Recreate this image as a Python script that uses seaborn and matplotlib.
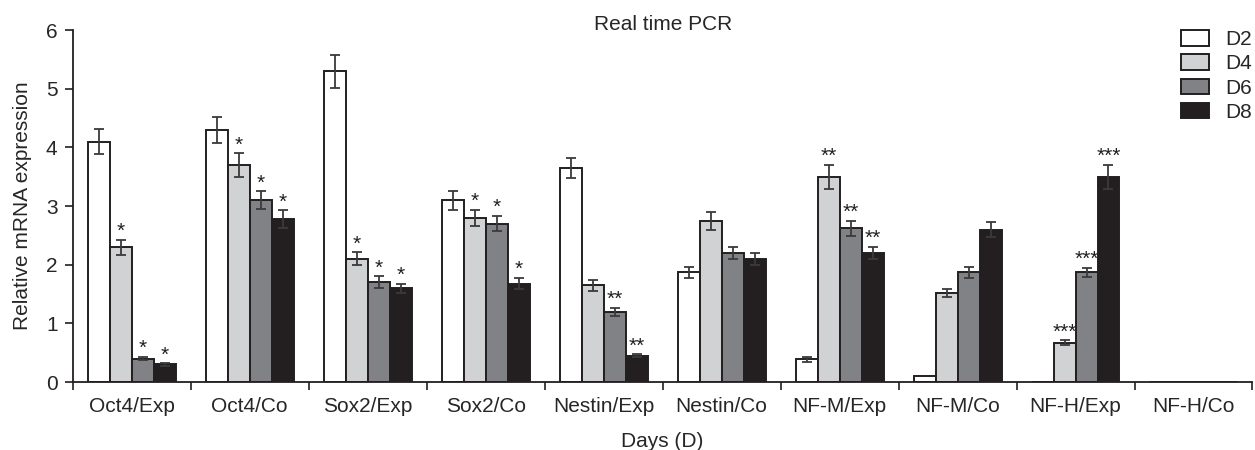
import matplotlib
matplotlib.use("Agg")
import matplotlib.pyplot as plt
import seaborn as sns
import pandas as pd
import numpy as np

genes = ["Oct4/Exp", "Oct4/Co", "Sox2/Exp", "Sox2/Co", "Nestin/Exp",
         "Nestin/Co", "NF-M/Exp", "NF-M/Co", "NF-H/Exp", "NF-H/Co"]
days = ["D2", "D4", "D6", "D8"]

d2 = [4.1, 4.3, 5.3, 3.1, 3.65, 1.87, 0.39, 0.1, 0.0, 0.0]
d4 = [2.3, 3.7, 2.1, 2.8, 1.65, 2.75, 3.5, 1.52, 0.67, 0.0]
d6 = [0.4, 3.1, 1.7, 2.7, 1.2, 2.2, 2.62, 1.87, 1.87, 0.0]
d8 = [0.3, 2.78, 1.6, 1.68, 0.45, 2.1, 2.2, 2.6, 3.5, 0.0]

d2_err = [0.22, 0.22, 0.28, 0.16, 0.17, 0.1, 0.04, 0.0, 0.0, 0.0]
d4_err = [0.13, 0.2, 0.11, 0.14, 0.09, 0.15, 0.2, 0.07, 0.04, 0.0]
d6_err = [0.03, 0.15, 0.1, 0.13, 0.07, 0.11, 0.13, 0.09, 0.08, 0.0]
d8_err = [0.02, 0.15, 0.08, 0.1, 0.02, 0.1, 0.11, 0.13, 0.2, 0.0]

d2_sig = ["", "", "", "", "", "", "", "", "", ""]
d4_sig = ["*", "*", "*", "*", "", "", "**", "", "***", ""]
d6_sig = ["*", "*", "*", "*", "**", "", "**", "", "***", ""]
d8_sig = ["*", "*", "*", "*", "**", "", "**", "", "***", ""]

colors = ["#ffffff", "#d1d2d4", "#808285", "#231f20"]

values = [d2, d4, d6, d8]
errors = [d2_err, d4_err, d6_err, d8_err]
sigs = [d2_sig, d4_sig, d6_sig, d8_sig]

rows = []
for day, vals in zip(days, values):
    for g, v in zip(genes, vals):
        rows.append({"gene": g, "day": day, "value": v})
df = pd.DataFrame(rows)

sns.set_style("white")
plt.rcParams["font.family"] = ["Liberation Sans", "DejaVu Sans"]
FS = 15

fig = plt.figure(figsize=(12.55, 4.5), dpi=100)
ax = fig.add_axes([0.058, 0.151, 0.94, 0.782])

sns.barplot(data=df, x="gene", y="value", hue="day", order=genes, hue_order=days,
            palette=colors, edgecolor="#231f20", linewidth=1.4, width=0.745,
            errorbar=None, saturation=1, ax=ax)

for cont, errs, sg in zip(ax.containers, errors, sigs):
    for patch, e, s in zip(cont, errs, sg):
        xc = patch.get_x() + patch.get_width() / 2
        h = patch.get_height()
        if e > 0:
            ax.errorbar(xc, h, yerr=e, fmt="none", ecolor="#3a3a3a",
                        elinewidth=1.3, capsize=3.8, capthick=1.3)
        if s:
            ax.annotate(s, (xc, h + e), xytext=(0, 2), textcoords="offset points",
                        ha="center", va="baseline", fontsize=FS, color="#231f20")

ax.set_ylim(0, 6)
ax.set_xlim(-0.5, 9.5)
ax.set_yticks(range(0, 7))
ax.set_xticks(np.arange(-0.5, 10, 1), minor=True)
ax.tick_params(axis="x", which="major", length=0, labelsize=FS, pad=11)
ax.tick_params(axis="x", which="minor", length=6, width=1.2, color="#231f20", direction="out", bottom=True)
ax.tick_params(axis="y", length=6, width=1.2, color="#231f20", direction="out", left=True,
               labelsize=FS, pad=5)
for sp in ["top", "right"]:
    ax.spines[sp].set_visible(False)
for sp in ["left", "bottom"]:
    ax.spines[sp].set_color("#231f20")
    ax.spines[sp].set_linewidth(1.3)

ax.set_xlabel("Days (D)", fontsize=FS, labelpad=11)
ax.set_ylabel("Relative mRNA expression", fontsize=FS, labelpad=10)
ax.set_title("Real time PCR", fontsize=FS, pad=0)

ax.legend(loc="upper right", bbox_to_anchor=(1.0, 1.0), frameon=False,
          fontsize=FS, handlelength=1.35, handleheight=0.77, labelspacing=0.25,
          handletextpad=0.8, borderaxespad=0, borderpad=0)

fig.savefig("out.png", dpi=100)
